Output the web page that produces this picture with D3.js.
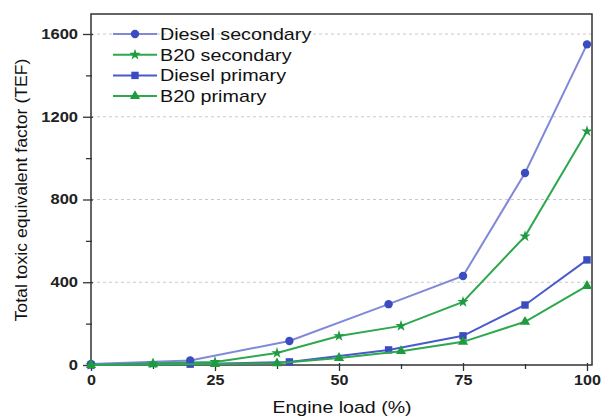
<!DOCTYPE html>
<html><head><meta charset="utf-8">
<script src="https://cdn.jsdelivr.net/npm/d3@7"></script>
<style>body{margin:0;background:#fff}svg{display:block;font-family:"Liberation Sans",Arial,sans-serif}</style>
</head><body><svg id="c" width="602" height="418"></svg>
<script>
const dieselLoads = [0, 20, 40, 60, 75, 87.5, 100];
const b20Loads = [0, 12.5, 25, 37.5, 50, 62.5, 75, 87.5, 100];
const dieselSecondary = [5, 22, 116, 294, 430, 928, 1550];
const b20Secondary = [0, 8, 15, 58, 140, 189, 305, 622, 1130];
const dieselPrimary = [0, 4, 15, 73, 141, 290, 508];
const b20Primary = [0, 3, 5, 8, 34, 67, 112, 209, 382];
const seriesNames = ["Diesel secondary", "B20 secondary", "Diesel primary", "B20 primary"];
const xTicks = [0, 25, 50, 75, 100];
const yTicks = [0, 400, 800, 1200, 1600];

const series = [
  {name: seriesNames[0], x: dieselLoads, y: dieselSecondary, line: "#8088d8", mark: "#3b4cc0", sym: d3.symbolCircle, size: 55},
  {name: seriesNames[1], x: b20Loads, y: b20Secondary, line: "#2ea84f", mark: "#1f9a3f", sym: d3.symbolStar, size: 40},
  {name: seriesNames[2], x: dieselLoads, y: dieselPrimary, line: "#4a5acb", mark: "#3b4cc0", sym: d3.symbolSquare, size: 55},
  {name: seriesNames[3], x: b20Loads, y: b20Primary, line: "#2ea84f", mark: "#1f9a3f", sym: d3.symbolTriangle, size: 45}
];

const svg = d3.select("#c");
const L = 91, R = 587, T = 14, B = 365, FR = 592;
const x = d3.scaleLinear().domain([0, 100]).range([L, R]);
const y = d3.scaleLinear().domain([0, 1600]).range([B, 34]);

function stretch(sel, k) {
  sel.each(function() {
    const w = this.getComputedTextLength();
    d3.select(this).attr("textLength", w * k).attr("lengthAdjust", "spacingAndGlyphs");
  });
}

// grid
svg.append("g").selectAll("line").data(yTicks.filter(d => d > 0)).join("line")
  .attr("x1", L).attr("x2", FR).attr("y1", d => y(d)).attr("y2", d => y(d))
  .attr("stroke", "#c8c8c8").attr("stroke-width", 1).attr("stroke-dasharray", "3,3");

// frame
svg.append("rect").attr("x", L).attr("y", T).attr("width", FR - L).attr("height", B - T)
  .attr("fill", "none").attr("stroke", "#333").attr("stroke-width", 1.5);

// axes
const yAxis = d3.axisLeft(y).tickValues(yTicks).tickFormat(d3.format("d")).tickSize(10).tickPadding(5);
const gy = svg.append("g").attr("transform", `translate(${L + 2},0)`).call(yAxis);
gy.select(".domain").remove();
gy.selectAll("line").attr("stroke", "#333").attr("stroke-width", 1.3);
gy.selectAll("text").attr("font-size", 14).attr("font-weight", "bold").attr("fill", "#222");
stretch(gy.selectAll("text"), 1.18);
const yMinor = d3.axisLeft(y).tickValues([200, 600, 1000, 1400]).tickSize(6).tickFormat("");
const gym = svg.append("g").attr("transform", `translate(${L + 1},0)`).call(yMinor);
gym.select(".domain").remove();
gym.selectAll("line").attr("stroke", "#333").attr("stroke-width", 1.3);

const xAxis = d3.axisBottom(x).tickValues(xTicks).tickFormat(d3.format("d")).tickSize(8).tickPadding(4);
const gx = svg.append("g").attr("transform", `translate(0,${B - 2})`).call(xAxis);
gx.select(".domain").remove();
gx.selectAll("line").attr("stroke", "#333").attr("stroke-width", 1.3);
gx.selectAll("text").attr("font-size", 14).attr("font-weight", "bold").attr("fill", "#222");
stretch(gx.selectAll("text"), 1.15);
const xMinor = d3.axisBottom(x).tickValues([12.5, 37.5, 62.5, 87.5]).tickSize(5).tickFormat("");
const gxm = svg.append("g").attr("transform", `translate(0,${B - 1})`).call(xMinor);
gxm.select(".domain").remove();
gxm.selectAll("line").attr("stroke", "#333").attr("stroke-width", 1.3);

// lines
const lineGen = d3.line().x(d => x(d[0])).y(d => y(d[1]));
series.forEach(s => {
  const pts = s.x.map((v, i) => [v, s.y[i]]);
  svg.append("path").datum(pts).attr("d", lineGen).attr("fill", "none")
    .attr("stroke", s.line).attr("stroke-width", 2);
  svg.append("g").selectAll("path").data(pts).join("path")
    .attr("transform", d => `translate(${x(d[0])},${y(d[1])})`)
    .attr("d", d3.symbol().type(s.sym).size(s.size)).attr("fill", s.mark);
});

// legend
const lg = svg.append("g");
series.forEach((s, i) => {
  const ly = 34 + i * 20.7;
  lg.append("line").attr("x1", 113).attr("x2", 157).attr("y1", ly).attr("y2", ly)
    .attr("stroke", s.line).attr("stroke-width", 2);
  lg.append("path").attr("transform", `translate(135,${ly})`)
    .attr("d", d3.symbol().type(s.sym).size(s.size)).attr("fill", s.mark);
  lg.append("text").attr("x", 160).attr("y", ly + 6).attr("font-size", 17)
    .attr("fill", "#111").text(s.name);
});
stretch(lg.selectAll("text"), 1.16);

// titles
const yt = svg.append("text").attr("transform", "translate(27,190) rotate(-90)").attr("text-anchor", "middle")
  .attr("font-size", 16.5).attr("fill", "#111").text("Total toxic equivalent factor (TEF)");
stretch(yt, 1.07);
const xt = svg.append("text").attr("x", 342).attr("y", 413).attr("text-anchor", "middle")
  .attr("font-size", 17).attr("fill", "#111").text("Engine load (%)");
stretch(xt, 1.15);
</script></body></html>
